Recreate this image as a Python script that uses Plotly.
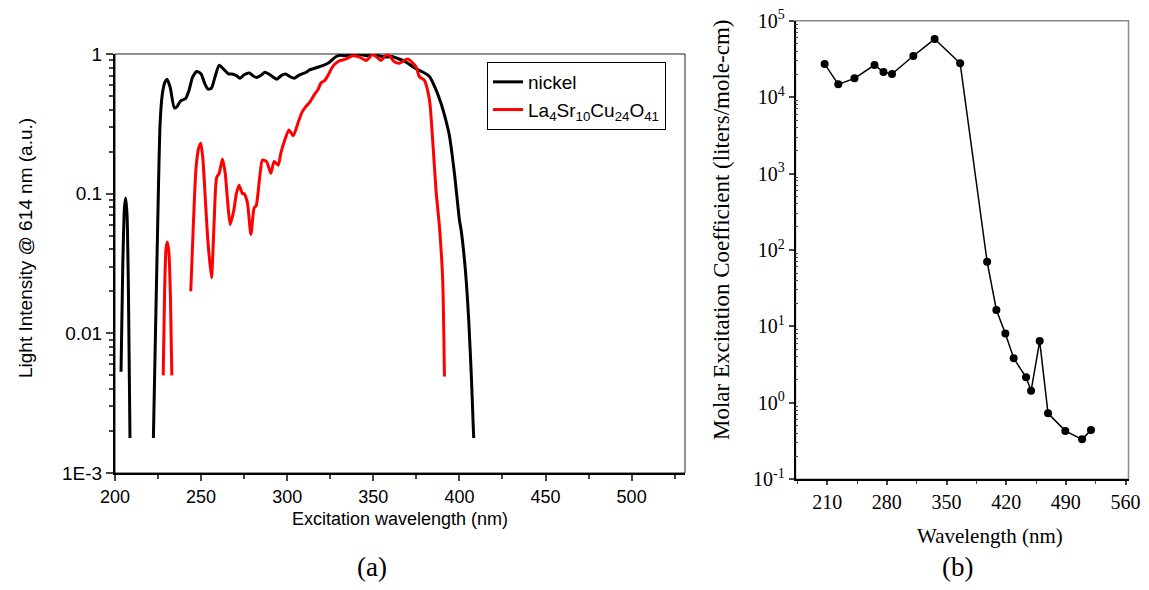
import plotly.graph_objects as go

# the page body keeps its default 8px margin, so the figure is drawn 8px in
# from the window corner; all positions below are window pixels
OFF = 8
W, H = 1149 - 2 * OFF, 590 - 2 * OFF

# ---- panel (a): excitation spectra (None = gap in the curve) ----
nickel_wl = [203.5, 204.5, 205.5, 206.2, 207.0, 207.8, 208.7, None,
             222.3, 223.5, 224.5, 226.2, 227.5, 229, 230.2, 232, 234.5, 236, 238, 241,
             243, 245, 247.5, 250, 252, 254, 256, 258, 260.5, 263, 266, 268, 270.5,
             272.5, 275, 278, 280, 282, 284.5, 287, 290, 292, 294, 296.5, 299, 301.5,
             304, 306.5, 308.7, 311, 313, 316, 318.6, 321, 324.4, 326.5, 328.5, 331,
             334, 337, 340, 343, 346, 349, 352, 355, 358, 361, 364, 367, 370, 372.9,
             376, 379, 382.6, 386, 389.4, 392, 394.2, 397.1, 400, 401, 403.5, 405.4,
             407, 408.3]
nickel_int = [0.0053, 0.03, 0.08, 0.093, 0.07, 0.02, 0.00178, None,
              0.00178, 0.01, 0.04, 0.32, 0.52, 0.63, 0.66, 0.58, 0.41, 0.42, 0.46, 0.48,
              0.55, 0.68, 0.75, 0.72, 0.62, 0.56, 0.57, 0.68, 0.83, 0.78, 0.72, 0.72, 0.70,
              0.67, 0.71, 0.73, 0.70, 0.68, 0.70, 0.74, 0.71, 0.68, 0.66, 0.70, 0.72, 0.69,
              0.67, 0.70, 0.72, 0.74, 0.77, 0.79, 0.81, 0.83, 0.87, 0.92, 0.96, 0.98,
              0.97, 0.99, 1.0, 0.99, 0.97, 0.99, 0.98, 0.96, 0.95, 0.96, 0.93, 0.90, 0.86, 0.81,
              0.77, 0.74, 0.69, 0.57, 0.44, 0.34, 0.26, 0.14, 0.065, 0.055, 0.028, 0.0125,
              0.0047, 0.00178]

lasr_wl = [228, 228.8, 229.6, 230.4, 231.3, 232.2, 233, None,
           244, 245.5, 247, 248.5, 249.8, 251, 252.7, 254, 256, 257.5, 259, 260.5,
           262.4, 264, 265.5, 266.9, 269, 270.5, 272, 274, 275, 276.9, 278.9, 280.8,
           282, 284, 285.6, 288, 290.5, 292.4, 294.8, 296.3, 298.5, 301, 303.5, 306.6,
           308.5, 310.8, 313, 315.7, 318, 319.6, 322, 324.4, 326, 328.3, 331, 334, 338,
           342, 345.8, 349.6, 352, 354.4, 358.3, 362.2, 365.1, 370, 374.8, 376.7, 379.6,
           382.6, 384.5, 386.4, 388.4, 390.3, 391.3]
lasr_int = [0.005, 0.02, 0.04, 0.045, 0.038, 0.018, 0.005, None,
            0.02, 0.06, 0.15, 0.21, 0.23, 0.18, 0.081, 0.045, 0.025, 0.06, 0.13, 0.14,
            0.177, 0.14, 0.085, 0.06, 0.076, 0.10, 0.115, 0.10, 0.10, 0.086, 0.051, 0.079,
            0.082, 0.13, 0.174, 0.17, 0.14, 0.17, 0.16, 0.195, 0.24, 0.286, 0.26, 0.33,
            0.38, 0.42, 0.45, 0.51, 0.56, 0.62, 0.65, 0.73, 0.80, 0.86, 0.90, 0.92, 0.97,
            0.95, 0.90, 0.99, 0.95, 0.90, 1.0, 0.88, 0.86, 0.92, 0.81, 0.69, 0.65,
            0.47, 0.24, 0.106, 0.058, 0.024, 0.0049]

a_xticks = [200, 250, 300, 350, 400, 450, 500]
a_yticks = [0.001, 0.01, 0.1, 1]
a_yticktext = ["1E-3", "0.01", "0.1", "1"]

# ---- panel (b): molar excitation coefficient ----
b_wl = [207, 223, 242, 265.5, 276, 286, 311, 336, 366, 397.6, 408.5, 419, 428.8,
        443.3, 449.2, 459.3, 469.1, 489.4, 509, 519.5]
b_coef = [27200, 14700, 17600, 26300, 21300, 20100, 34500, 57500, 27700, 70.3, 16.4,
          8.1, 3.83, 2.16, 1.44, 6.44, 0.73, 0.43, 0.333, 0.44]

b_xticks = [210, 280, 350, 420, 490, 560]
b_yticks = [0.1, 1, 10, 100, 1000, 10000, 100000]
b_yticktext = ["10<sup>-1</sup>", "10<sup>0</sup>", "10<sup>1</sup>", "10<sup>2</sup>",
               "10<sup>3</sup>", "10<sup>4</sup>", "10<sup>5</sup>"]

SANS = "Arial, Liberation Sans, sans-serif"
SERIF = "Times New Roman, Liberation Serif, serif"


def px(x):
    return (x - OFF) / W


def py(y):
    return 1 - (y - OFF) / H


def label(text, x, y, font, size, angle=0):
    return dict(text=text, x=px(x), y=py(y), xref="paper", yref="paper",
                xanchor="center", yanchor="middle", textangle=angle, showarrow=False,
                font=dict(family=font, size=size, color="black"))


fig = go.Figure()
fig.add_trace(go.Scatter(x=nickel_wl, y=nickel_int, name="nickel", mode="lines",
                         line=dict(color="black", width=3, shape="spline", smoothing=0.6),
                         connectgaps=False, xaxis="x", yaxis="y"))
fig.add_trace(go.Scatter(x=lasr_wl, y=lasr_int,
                         name="La<sub>4</sub>Sr<sub>10</sub>Cu<sub>24</sub>O<sub>41</sub>",
                         mode="lines",
                         line=dict(color="#ff0000", width=3, shape="spline", smoothing=0.6),
                         connectgaps=False, xaxis="x", yaxis="y"))
fig.add_trace(go.Scatter(x=b_wl, y=b_coef, mode="lines+markers", showlegend=False,
                         line=dict(color="black", width=1.5),
                         marker=dict(color="black", size=8),
                         xaxis="x2", yaxis="y2"))

minor_a = [m * 10 ** e for e in (-3, -2, -1) for m in range(2, 10)]
minor_b = [m * 10 ** e for e in (-1, 0, 1, 2, 3, 4) for m in range(2, 10)]

fig.update_layout(
    width=W, height=H,
    margin=dict(l=0, r=0, t=0, b=0, autoexpand=False),
    paper_bgcolor="white", plot_bgcolor="white",
    showlegend=True,
    legend=dict(x=px(487), y=py(62), xanchor="left", yanchor="top",
                bordercolor="black", borderwidth=1, bgcolor="white",
                font=dict(family=SANS, size=19, color="black"),
                tracegroupgap=0),
    xaxis=dict(domain=[px(115), px(685)], anchor="y", range=[200, 531], automargin=False,
               tickvals=a_xticks, ticks="outside", ticklen=6, tickwidth=1.5,
               showline=True, linewidth=2, linecolor="black", showgrid=False,
               zeroline=False, tickfont=dict(family=SANS, size=18, color="black"),
               minor=dict(dtick=25, tick0=200, ticks="outside", ticklen=4, tickwidth=1.5)),
    yaxis=dict(domain=[py(473), py(54)], anchor="x", type="log", range=[-3, 0],
               automargin=False, ticklabeloverflow="allow",
               tickvals=a_yticks, ticktext=a_yticktext, ticks="outside", ticklen=7,
               tickwidth=1.5, showline=True, linewidth=2, linecolor="black",
               showgrid=False, zeroline=False,
               tickfont=dict(family=SANS, size=19, color="black"),
               minor=dict(tickvals=minor_a, ticks="outside", ticklen=4, tickwidth=1.5)),
    xaxis2=dict(domain=[px(795.5), px(1128.5)], anchor="y2", range=[172.8, 563.5],
                automargin=False, ticklabeloverflow="allow",
                tickvals=b_xticks, ticks="outside", ticklen=4, tickwidth=1.5,
                showline=True, linewidth=1.5, linecolor="black", showgrid=False,
                zeroline=False, tickfont=dict(family=SERIF, size=20, color="black"),
                minor=dict(dtick=35, tick0=175, ticks="outside", ticklen=3, tickwidth=1)),
    yaxis2=dict(domain=[py(479.3), py(20.7)], anchor="x2", type="log", range=[-1, 5],
                automargin=False, ticklabeloverflow="allow",
                tickvals=b_yticks, ticktext=b_yticktext, ticks="outside", ticklen=5,
                tickwidth=1.5, showline=True, linewidth=1.5, linecolor="black",
                showgrid=False, zeroline=False,
                tickfont=dict(family=SERIF, size=20, color="black"),
                minor=dict(tickvals=minor_b, ticks="inside", ticklen=3, tickwidth=1)),
    shapes=[
        dict(type="rect", xref="x domain", yref="y domain", x0=0, x1=1, y0=0, y1=1,
             line=dict(color="#222", width=1), layer="below"),
        dict(type="rect", xref="x2 domain", yref="y2 domain", x0=0, x1=1, y0=0, y1=1,
             line=dict(color="#888", width=1.5), layer="below"),
    ],
    annotations=[
        label("Light Intensity @ 614 nm (a.u.)", 25, 248, SANS, 19, -90),
        label("Excitation wavelength (nm)", 400, 519, SANS, 18),
        label("(a)", 372, 567, SERIF, 27),
        label("Molar Excitation Coefficient (liters/mole-cm)", 722, 230, SERIF, 23, -90),
        label("Wavelength (nm)", 990, 536, SERIF, 21),
        label("(b)", 957, 567, SERIF, 27),
    ],
)

fig.write_html("out.html")
